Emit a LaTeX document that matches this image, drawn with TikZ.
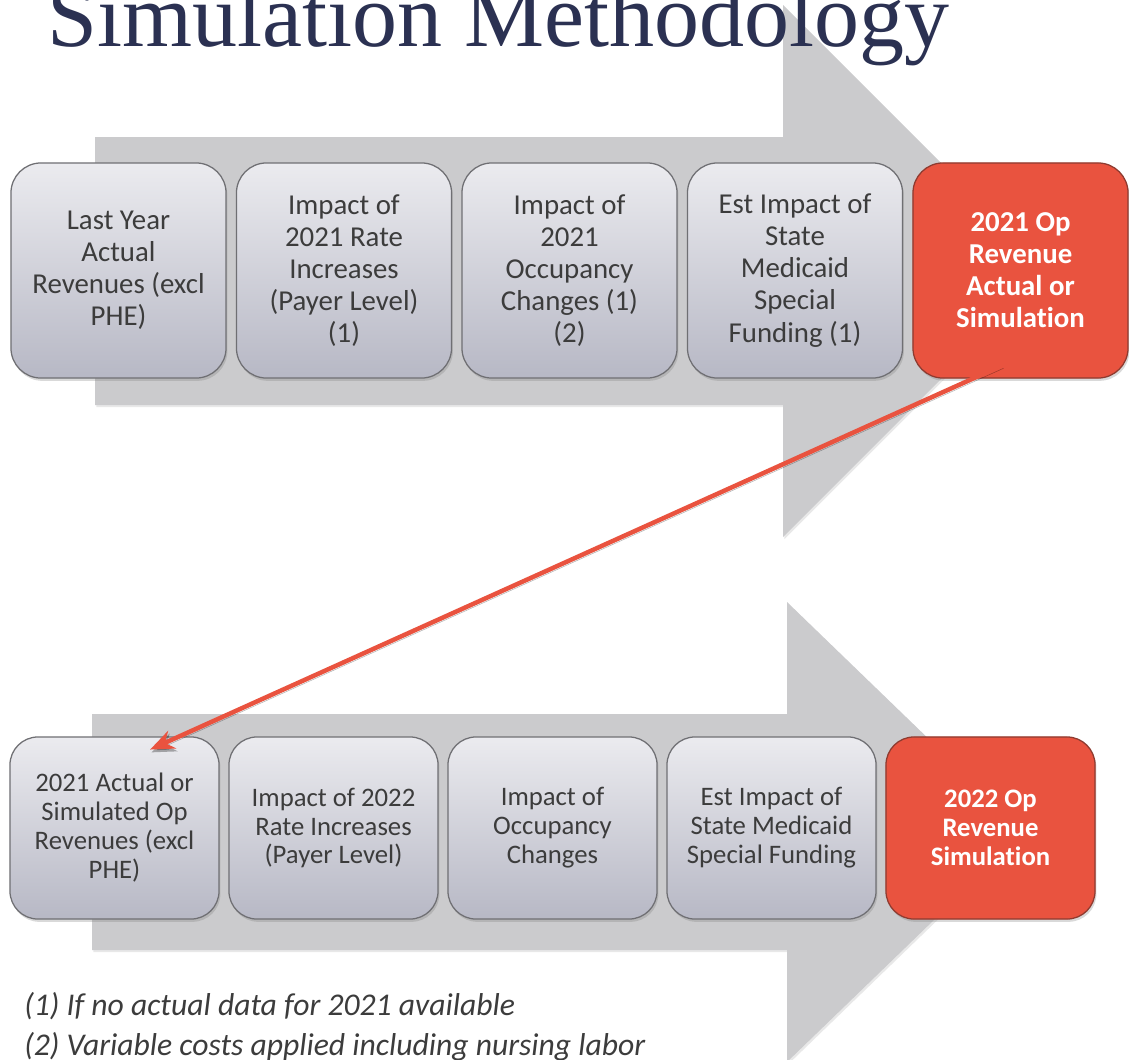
\documentclass[tikz,border=0pt]{standalone}
\usepackage{fontspec}
\setmainfont{Carlito}[Ligatures=NoCommon,Contextuals=NoAlternate]
\newfontfamily\titlefont{Liberation Serif}
\usetikzlibrary{shadows,arrows.meta}
\definecolor{arrowgrey}{HTML}{CBCBCD}
\definecolor{boxtop}{HTML}{EBEBEF}
\definecolor{boxbot}{HTML}{B7B8C5}
\definecolor{boxline}{HTML}{6F6F73}
\definecolor{simred}{HTML}{E9533F}
\definecolor{redline}{HTML}{8E3B30}
\definecolor{txtgrey}{HTML}{3C3C3C}
\definecolor{titleblue}{HTML}{2B3152}

\tikzset{
  bigarrow/.style={fill=arrowgrey, drop shadow={opacity=0.18, shadow xshift=1pt, shadow yshift=-1.5pt}},
  stepbox/.style={draw=boxline, line width=0.9pt, rounded corners=0.75cm, top color=boxtop, bottom color=boxbot,
    text=txtgrey, align=center, inner sep=2pt,
    drop shadow={opacity=0.3, shadow xshift=1pt, shadow yshift=-2pt}},
  resbox/.style={stepbox, fill=simred, top color=simred, bottom color=simred, draw=redline, text=white, font=\bfseries},
  toprow/.style={minimum width=5.375cm, minimum height=5.375cm, font=\fontsize{20.5}{22.8}\selectfont},
  botrow/.style={minimum width=5.225cm, minimum height=4.55cm, font=\fontsize{19}{20.6}\selectfont, rounded corners=0.7cm},
  note/.style={anchor=base west, inner sep=0pt, text=txtgrey, font=\itshape\fontsize{22.5}{26}\selectfont},
  link/.style={->, line width=3.2pt, simred,
    preaction={draw=black, opacity=0.3, transform canvas={xshift=1pt,yshift=-2pt}}},
}

\begin{document}
\begin{tikzpicture}[x=0.025cm,y=-0.025cm,>={Stealth[length=0.6cm,width=0.48cm]}]
\useasboundingbox (0,0) rectangle (1129,1059);
\clip (0,0) rectangle (1129,1059);

% the two grey arrows
\fill[bigarrow] (95,137) -- (783,137) -- (783,5) -- (1049,271) -- (783,537) -- (783,405) -- (95,405) -- cycle;
\fill[bigarrow] (92,714) -- (787,714) -- (787,602) -- (1025,832) -- (787,1062) -- (787,950) -- (92,950) -- cycle;

% title, cut at the top of the slide
\node[anchor=base west, inner sep=0pt, text=titleblue, font=\titlefont\fontsize{64}{70}\selectfont] (title) at (47,46) {Simulation Methodology};

% 2021 row
\node[stepbox,toprow] (last) at (118.5,270.5) {Last Year\\Actual\\Revenues (excl\\PHE)};
\node[stepbox,toprow] (rate21) at (344,270.5) {Impact of\\2021 Rate\\Increases\\(Payer Level)\\(1)};
\node[stepbox,toprow] (occ21) at (569.5,270.5) {Impact of\\2021\\Occupancy\\Changes (1)\\(2)};
\node[stepbox,toprow] (medi21) at (795,270.5) {Est Impact of\\State\\Medicaid\\Special\\Funding (1)};
\node[resbox,toprow,font=\bfseries\fontsize{20.5}{22.8}\selectfont] (res21) at (1020.5,270.5) {2021 Op\\Revenue\\Actual or\\Simulation};

% 2022 row
\node[stepbox,botrow] (act21) at (114.5,828) {2021 Actual or\\Simulated Op\\Revenues (excl\\PHE)};
\node[stepbox,botrow] (rate22) at (333.5,828) {Impact of 2022\\Rate Increases\\(Payer Level)};
\node[stepbox,botrow] (occ22) at (552.5,828) {Impact of\\Occupancy\\Changes};
\node[stepbox,botrow] (medi22) at (771.5,828) {Est Impact of\\State Medicaid\\Special Funding};
\node[resbox,botrow,font=\bfseries\fontsize{19}{20.6}\selectfont] (res22) at (990.5,828) {2022 Op\\Revenue\\Simulation};

% result of 2021 feeds the 2022 start
\coordinate (from) at ([xshift=-0.46cm,yshift=0.33cm]res21.south);
\coordinate (to) at ([xshift=0.89cm,yshift=-0.33cm]act21.north);
\draw[link] (from) -- (to);

% notes
\node[note] (note1) at (24,1015) {(1) If no actual data for 2021 available};
\node[note] (note2) at (24,1055) {(2) Variable costs applied including nursing labor};
\end{tikzpicture}
\end{document}
